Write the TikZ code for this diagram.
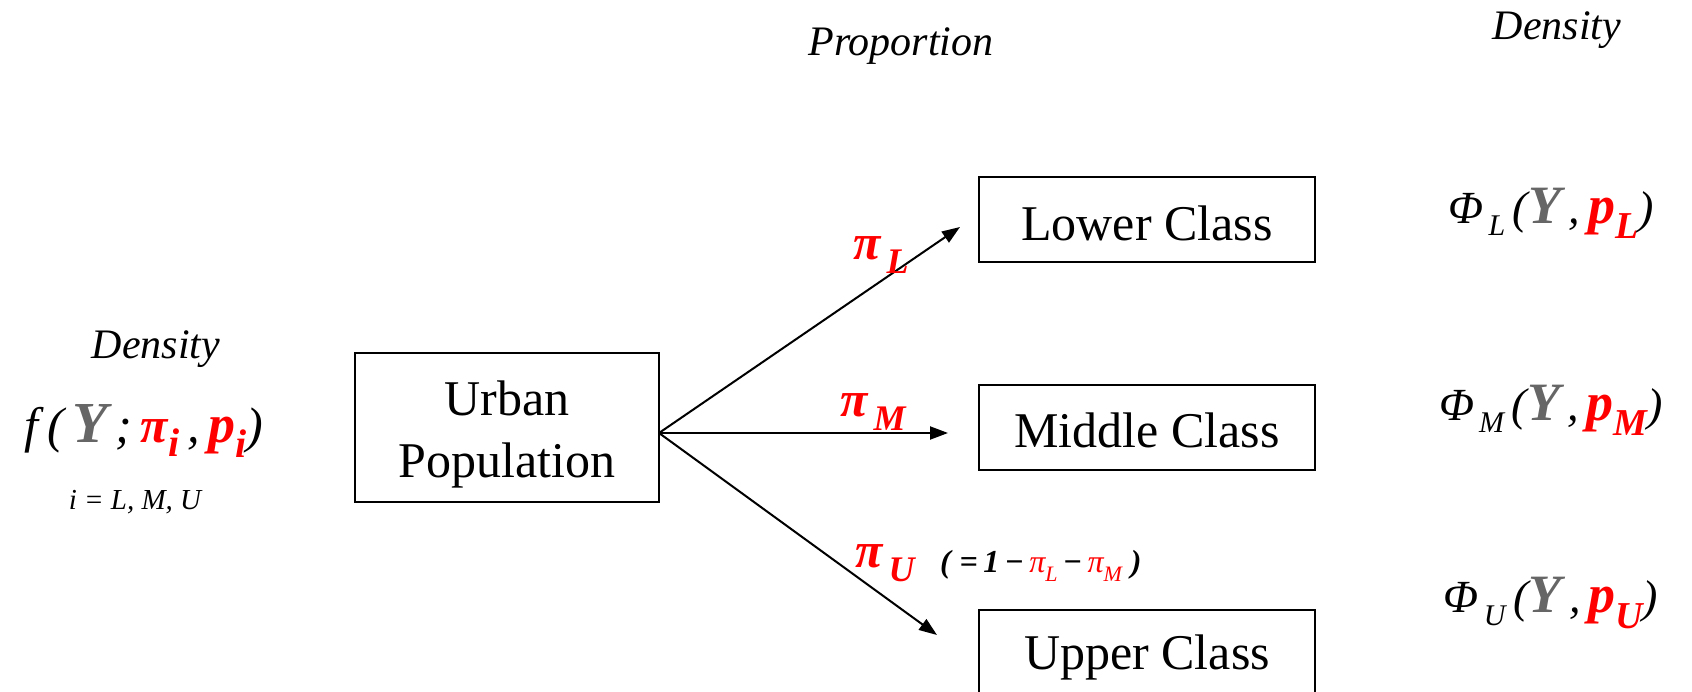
\documentclass[tikz,border=0pt]{standalone}
\usepackage{fontspec}
\setmainfont{Liberation Serif}
\usetikzlibrary{arrows.meta}
\definecolor{yg}{HTML}{666666}
\definecolor{rd}{HTML}{FF0000}
\newcommand\fs[1]{\fontsize{#1}{#1}\selectfont}
\newcommand\lowsub[2]{\raisebox{-0.28em}{\fs{#1}#2}}
\begin{document}
\begin{tikzpicture}[x=1pt,y=-1pt,
  box/.style={draw, line width=2pt, inner sep=0pt},
  boxtext/.style={inner sep=0pt, font=\fs{50}, align=center},
  arr/.style={line width=2pt, -{Triangle[length=18pt,width=13pt]}},
  lbl/.style={inner sep=0pt, anchor=center}]
\useasboundingbox (0,0) rectangle (1692,692);
\clip (0,0) rectangle (1692,692);
\node[box, minimum width=304pt, minimum height=149pt] (urban) at (507,427.5) {};
\node[boxtext] (urbanT) at (507,434) {Urban\\[12pt]Population};
\node[box, minimum width=336pt, minimum height=85pt] (lower) at (1147,219.5) {};
\node[boxtext] (lowerT) at (1147,223) {Lower Class};
\node[box, minimum width=336pt, minimum height=85pt] (middle) at (1147,427.5) {};
\node[boxtext] (middleT) at (1147,430) {Middle Class};
\node[box, minimum width=336pt, minimum height=85pt] (upper) at (1147,652) {};
\node[boxtext] (upperT) at (1147,657) {Upper Class};
\coordinate (src) at (659,433);
\coordinate (eL) at (960,227);
\coordinate (eM) at (948,433);
\coordinate (eU) at (937,635);
\draw[arr] (src) -- (eL);
\draw[arr] (src) -- (eM);
\draw[arr] (src) -- (eU);
% proportion labels
\node[lbl, text=rd] (piL) at (881,255) {\fs{50}\bfseries\itshape π\lowsub{36}{\,L}};
\node[lbl, text=rd] (piM) at (873,412) {\fs{50}\bfseries\itshape π\lowsub{36}{\,M}};
\node[lbl, text=rd] (piU) at (885,563) {\fs{50}\bfseries\itshape π\lowsub{36}{\,U}};
\node[lbl, anchor=west] (eq) at (940,566) {\fs{32}\bfseries\itshape (\;=\,1\,−\,\textcolor{rd}{\mdseries π\lowsub{22}{L}}\,−\,\textcolor{rd}{\mdseries π\lowsub{22}{M}}\;)};
% headers
\node[lbl] (hprop) at (901,46) {\fs{42}\itshape Proportion};
\node[lbl] (hdens) at (1557,30) {\fs{42}\itshape Density};
\node[lbl] (ldens) at (156,349) {\fs{42}\itshape Density};
\node[lbl] (fdens) at (144,431) {\fs{50}\itshape f\,(\,\textcolor{yg}{\fs{58}\bfseries Y}\,;\,\textcolor{rd}{\bfseries π\lowsub{40}{i}}\,,\,\textcolor{rd}{\fs{54}\bfseries p\lowsub{40}{i}})};
\node[lbl] (idx) at (135,502) {\fs{29}\itshape i = L, M, U};
% densities
\node[lbl] (phiL) at (1551,213) {\fs{46}\itshape Φ\lowsub{30}{\,L}\,(\textcolor{yg}{\fs{54}\bfseries Y}\,,\,\textcolor{rd}{\fs{54}\bfseries p\lowsub{38}{L}})};
\node[lbl] (phiM) at (1551,410) {\fs{46}\itshape Φ\lowsub{30}{\,M}\,(\textcolor{yg}{\fs{54}\bfseries Y}\,,\,\textcolor{rd}{\fs{54}\bfseries p\lowsub{38}{M}})};
\node[lbl] (phiU) at (1551,603) {\fs{46}\itshape Φ\lowsub{30}{\,U}\,(\textcolor{yg}{\fs{54}\bfseries Y}\,,\,\textcolor{rd}{\fs{54}\bfseries p\lowsub{38}{U}})};
\end{tikzpicture}
\end{document}
